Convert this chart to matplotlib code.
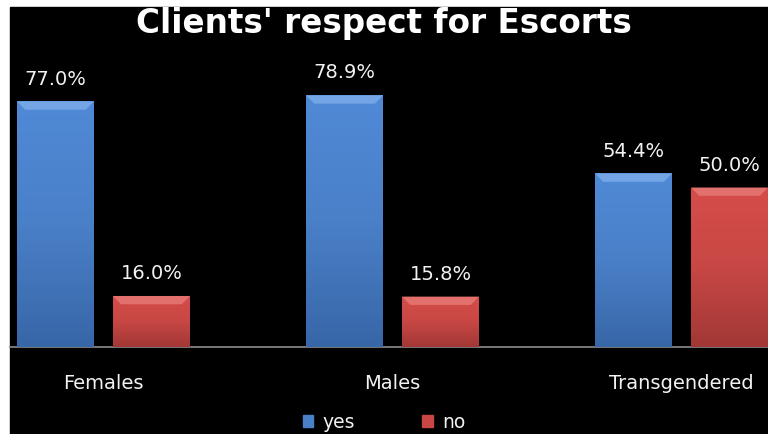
import numpy as np
import matplotlib
matplotlib.use('Agg')
import matplotlib.pyplot as plt
from matplotlib.patches import Rectangle, Patch
from matplotlib.colors import LinearSegmentedColormap

plt.rcParams['font.family'] = ['DejaVu Sans']

# data
groups = ['Females', 'Males', 'Transgendered']
yes_vals = [77.0, 78.9, 54.4]
no_vals = [16.0, 15.8, 50.0]

W, H = 768, 435
fig = plt.figure(figsize=(W / 100, H / 100), dpi=100, facecolor='white')

# black chart background (white margin on top and left)
fig.patches.append(Rectangle((10 / W, 0), 1 - 10 / W, (H - 8) / H, color='black',
                             transform=fig.transFigure, zorder=-5))

ax = fig.add_axes([10 / W, (H - 348) / H, 1 - 10 / W, (348 - 8) / H])
ax.set_facecolor('none')

x = np.arange(len(groups))
bw = 0.266
off = 0.166

blue_cm = LinearSegmentedColormap.from_list('b', ['#3867a8', '#4a80c8', '#5089d6'])
red_cm = LinearSegmentedColormap.from_list('r', ['#a23836', '#c84744', '#d54d4a'])


def draw_bars(xs, vals, base, cmap, light):
    bars = ax.bar(xs, vals, bw, color=base, edgecolor='none', zorder=2)
    grad = np.linspace(0, 1, 64).reshape(-1, 1)
    for b in bars:
        x0, w, h = b.get_x(), b.get_width(), b.get_height()
        im = ax.imshow(grad, cmap=cmap, aspect='auto', extent=(x0, x0 + w, 0, h),
                       origin='lower', zorder=3)
        im.set_clip_path(b)
        # bevel on the top edge
        ax.fill([x0, x0 + w, x0 + w - 0.028, x0 + 0.028], [h, h, h - 2.6, h - 2.6],
                color=light, zorder=4, lw=0)
        ax.annotate(f'{h:.1f}%', (x0 + w / 2, h), xytext=(0, 10), textcoords='offset points',
                    ha='center', va='bottom', color='#f2f2f2', fontsize=14)
    return bars


draw_bars(x - off, yes_vals, '#4a80c8', blue_cm, '#74a6e6')
draw_bars(x + off, no_vals, '#c84744', red_cm, '#e2716e')

ax.set_xlim(-0.3235, 2.299)
ax.set_ylim(0, 106.6)
ax.set_yticks([])
ax.set_xticks(x)
ax.set_xticklabels(groups, color='#f2f2f2', fontsize=14)
ax.tick_params(axis='x', length=0, pad=19)
for s in ['top', 'left', 'right']:
    ax.spines[s].set_visible(False)
ax.spines['bottom'].set_color('#8c8c8c')
ax.spines['bottom'].set_linewidth(1.2)

fig.text(0.5, (H - 24) / H, "Clients' respect for Escorts", ha='center', va='center',
         color='white', fontsize=23.5, fontweight='bold')

handles = [Patch(color='#4a80c8', label='yes'), Patch(color='#c84744', label='no')]
fig.legend(handles=handles, loc='center', bbox_to_anchor=(0.5, 12 / H), ncol=2, frameon=False,
           labelcolor='#f2f2f2', fontsize=13.5, handlelength=0.55, handleheight=0.55,
           columnspacing=3.6, handletextpad=0.5, borderpad=0.1)

fig.savefig('out.png', dpi=100, facecolor=fig.get_facecolor())
